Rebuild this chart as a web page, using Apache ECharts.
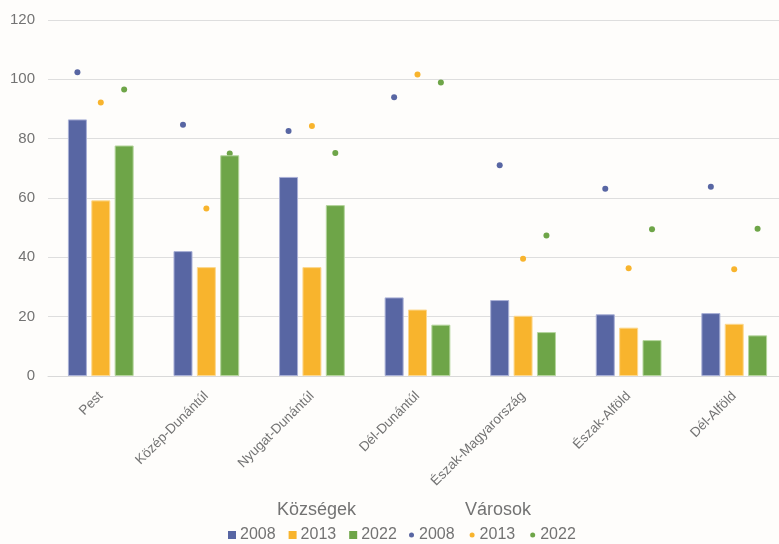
<!DOCTYPE html>
<html>
<head>
<meta charset="utf-8">
<script src="https://cdn.jsdelivr.net/npm/echarts@6/dist/echarts.min.js"></script>
<style>
html,body{margin:0;padding:0;background:#fefdfb;}
#c{width:779px;height:544px;}
</style>
</head>
<body>
<div id="c"></div>
<script>
var categories = ['Pest','Közép-Dunántúl','Nyugat-Dunántúl','Dél-Dunántúl','Észak-Magyarország','Észak-Alföld','Dél-Alföld'];
var years = ['2008','2013','2022'];
var kozsegek2008 = [86.5,42.1,67.1,26.5,25.6,20.8,21.2];
var kozsegek2013 = [59.2,36.7,36.7,22.4,20.3,16.3,17.6];
var kozsegek2022 = [77.7,74.4,57.6,17.3,14.8,12.1,13.7];
var varosok2008 = [102.4,84.7,82.6,94.0,71.0,63.1,63.8];
var varosok2013 = [92.2,56.5,84.3,101.6,39.5,36.3,36.0];
var varosok2022 = [96.6,75.0,75.2,98.9,47.4,49.5,49.6];
var yMin = 0, yMax = 120, yInterval = 20;

var colors = ['#5866a3','#f8b42d','#6ea548'];
var borders = ['#a9b0d6','#fcd88f','#b5d59d'];
var fontFam = '"Liberation Sans", Arial, sans-serif';
var textGray = '#737373';

var barData = [kozsegek2008, kozsegek2013, kozsegek2022];
var dotData = [varosok2008, varosok2013, varosok2022];

var series = [];
barData.forEach(function(d, i){
  series.push({
    type:'bar', name:'K' + years[i], data:d,
    barWidth:19, barGap:'23%',
    itemStyle:{color:colors[i], borderColor:borders[i], borderWidth:1},
    emphasis:{disabled:true}
  });
});
dotData.forEach(function(d, i){
  series.push({
    type:'pictorialBar', name:'V' + years[i], data:d,
    barWidth:19, barGap:'23%',
    symbol:'circle', symbolSize:[6,6], symbolPosition:'end', symbolOffset:[0,'-50%'],
    itemStyle:{color:colors[i]},
    emphasis:{disabled:true}
  });
});

var chart = echarts.init(document.getElementById('c'));
chart.setOption({
  backgroundColor:'#fefdfb',
  animation:false,
  grid:{left:48, right:-8, top:20, bottom:168, containLabel:false, outerBoundsMode:'none'},
  xAxis:{
    type:'category', data:categories,
    axisLine:{lineStyle:{color:'#d9d9d9'}},
    axisTick:{show:false},
    axisLabel:{rotate:45, color:textGray, fontFamily:fontFam, fontSize:13.5, margin:18, interval:0}
  },
  yAxis:{
    type:'value', min:yMin, max:yMax, interval:yInterval,
    axisLine:{show:false}, axisTick:{show:false},
    splitLine:{lineStyle:{color:'#dedede'}},
    axisLabel:{color:textGray, fontFamily:fontFam, fontSize:15, margin:13}
  },
  legend:[
    {
      data:series.slice(0,3).map(function(s){return s.name;}),
      left:228, top:527, padding:0, icon:'rect', itemWidth:8, itemHeight:8, itemGap:13,
      itemStyle:{borderWidth:0},
      formatter:function(n){return n.slice(1);},
      textStyle:{color:textGray, fontFamily:fontFam, fontSize:16, padding:[0,0,0,-1]}
    },
    {
      data:series.slice(3).map(function(s){return s.name;}),
      left:409, top:527, padding:0, icon:'circle', itemWidth:5, itemHeight:5, itemGap:15,
      itemStyle:{borderWidth:0},
      formatter:function(n){return n.slice(1);},
      textStyle:{color:textGray, fontFamily:fontFam, fontSize:16}
    }
  ],
  graphic:[
    {type:'text', left:277, top:501, style:{text:'Községek', fill:textGray, font:'18px ' + fontFam}},
    {type:'text', left:465, top:501, style:{text:'Városok', fill:textGray, font:'18px ' + fontFam}}
  ],
  series:series
});
</script>
</body>
</html>
